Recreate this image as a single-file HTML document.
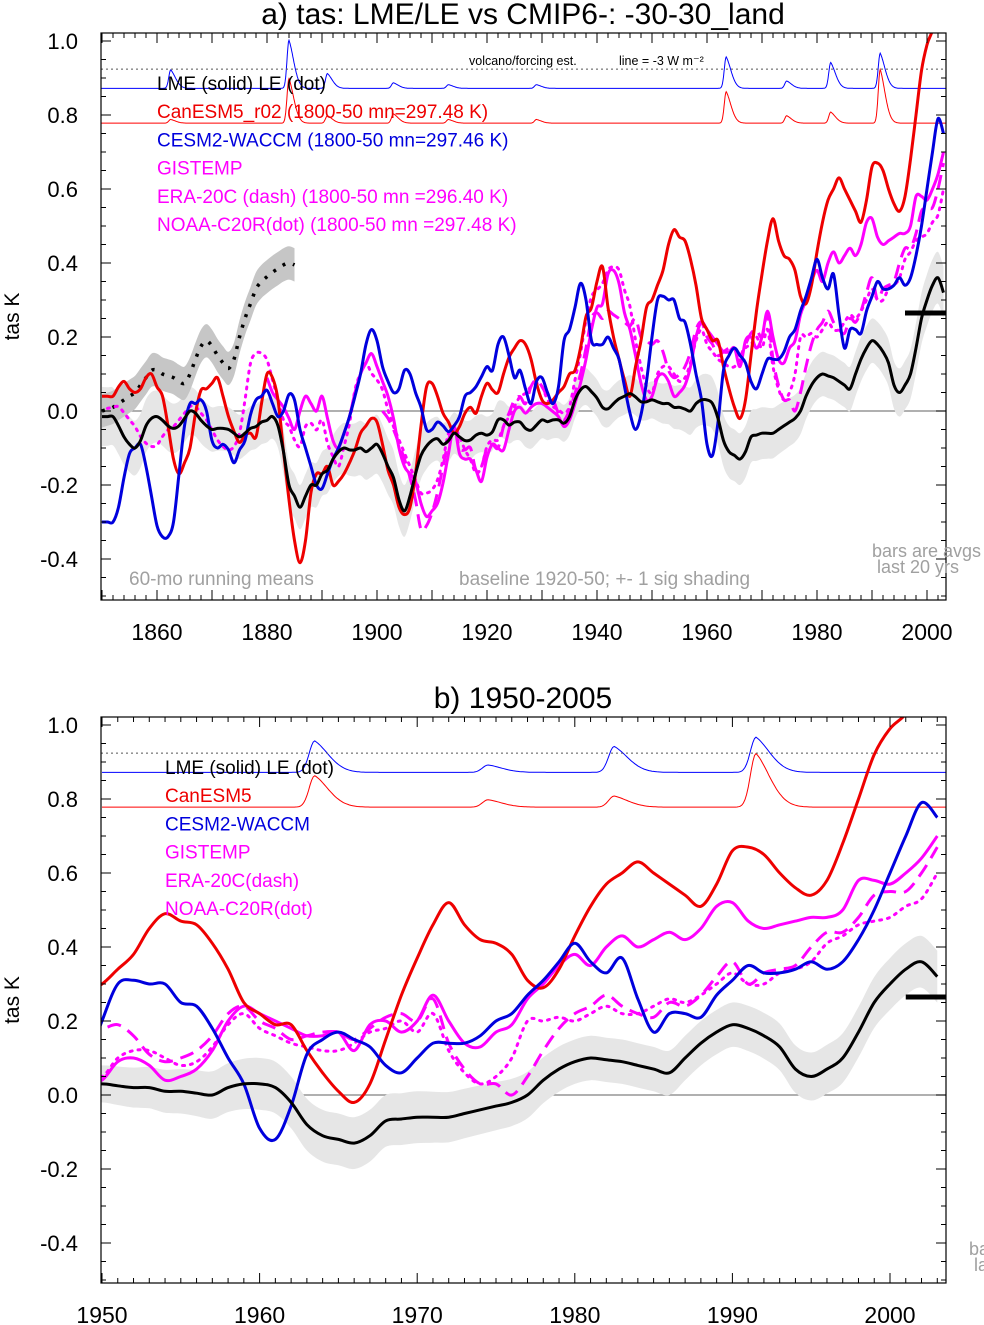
<!DOCTYPE html>
<html><head><meta charset="utf-8"><style>
html,body{margin:0;padding:0;background:#fff}
svg{display:block;font-family:"Liberation Sans",Arial,sans-serif}
</style></head><body>
<svg id="chart" width="984" height="1325" viewBox="0 0 984 1325" xmlns="http://www.w3.org/2000/svg">
<defs>
<clipPath id="clipA"><rect x="101" y="33" width="845" height="567"/></clipPath>
<clipPath id="clipB"><rect x="101" y="717" width="845" height="566"/></clipPath>
</defs>
<g id="panelA"></g>
<g id="panelB"></g>
</svg>
<script>
// ---- data (annual smoothed anomalies, K) ----
const lmeStart = 1850;
const lmeVals = [-0.015,-0.015,-0.015,-0.04,-0.07,-0.09,-0.10,-0.08,-0.04,-0.02,-0.015,-0.025,-0.04,-0.047,-0.04,-0.02,0.0,-0.006,-0.025,-0.04,-0.05,-0.047,-0.047,-0.05,-0.06,-0.07,-0.06,-0.047,-0.042,-0.03,-0.025,-0.015,-0.04,-0.11,-0.2,-0.23,-0.26,-0.23,-0.2,-0.2,-0.17,-0.16,-0.13,-0.11,-0.1,-0.105,-0.105,-0.1,-0.11,-0.1,-0.09,-0.115,-0.15,-0.18,-0.24,-0.27,-0.23,-0.17,-0.12,-0.095,-0.08,-0.075,-0.09,-0.08,-0.06,-0.07,-0.08,-0.078,-0.065,-0.06,-0.065,-0.056,-0.024,-0.024,-0.038,-0.03,-0.03,-0.047,-0.052,-0.038,-0.024,-0.029,-0.024,-0.024,-0.033,-0.015,0.03,0.057,0.066,0.052,0.035,0.01,0.006,0.02,0.033,0.04,0.047,0.038,0.025,0.025,0.03,0.025,0.02,0.02,0.01,0.01,0.005,0.0,0.02,0.03,0.03,0.02,-0.02,-0.08,-0.11,-0.12,-0.13,-0.11,-0.07,-0.065,-0.06,-0.06,-0.06,-0.05,-0.04,-0.03,-0.02,0.0,0.04,0.07,0.09,0.1,0.095,0.09,0.08,0.07,0.06,0.1,0.14,0.17,0.19,0.18,0.16,0.13,0.07,0.05,0.07,0.1,0.17,0.25,0.3,0.34,0.36,0.32];
const sdYears = [1850,1860,1870,1880,1890,1900,1910,1920,1930,1940,1950,1960,1970,1980,1990,2000];
const lmeSd = [0.08,0.07,0.06,0.06,0.06,0.08,0.06,0.05,0.05,0.05,0.05,0.07,0.07,0.06,0.06,0.07];
const canStart = 1850;
const canVals = [0.04,0.04,0.04,0.065,0.08,0.06,0.05,0.06,0.09,0.1,0.065,0.04,-0.04,-0.13,-0.17,-0.14,-0.1,-0.006,0.056,0.06,0.075,0.09,0.04,-0.015,-0.055,-0.085,-0.065,-0.06,-0.07,0.02,0.1,0.09,0.03,-0.11,-0.24,-0.35,-0.41,-0.35,-0.22,-0.17,-0.17,-0.15,-0.2,-0.19,-0.17,-0.14,-0.105,-0.06,-0.04,-0.02,-0.03,-0.09,-0.16,-0.2,-0.26,-0.28,-0.26,-0.17,-0.04,0.065,0.075,0.04,-0.006,-0.03,-0.06,-0.042,-0.006,0.01,-0.006,0.04,0.075,0.057,0.05,0.1,0.145,0.17,0.19,0.18,0.14,0.075,0.03,0.02,0.03,0.05,0.066,0.1,0.11,0.17,0.255,0.28,0.35,0.39,0.28,0.2,0.14,0.084,0.04,0.12,0.19,0.28,0.3,0.34,0.38,0.45,0.49,0.47,0.46,0.41,0.34,0.25,0.22,0.19,0.19,0.12,0.06,0.01,-0.02,0.03,0.15,0.27,0.37,0.46,0.52,0.46,0.42,0.41,0.38,0.31,0.29,0.34,0.43,0.51,0.57,0.6,0.63,0.6,0.57,0.54,0.51,0.57,0.66,0.67,0.65,0.6,0.56,0.54,0.58,0.68,0.8,0.92,0.99,1.03,1.1,1.15];
const cesmStart = 1850;
const cesmVals = [-0.3,-0.3,-0.3,-0.26,-0.18,-0.115,-0.1,-0.09,-0.15,-0.23,-0.31,-0.34,-0.34,-0.3,-0.17,-0.04,0.02,0.02,0.03,0.0,-0.08,-0.1,-0.09,-0.105,-0.14,-0.105,-0.08,-0.01,0.03,0.04,0.056,0.02,-0.015,0.0,0.045,0.03,-0.05,-0.1,-0.15,-0.2,-0.21,-0.17,-0.13,-0.1,-0.06,-0.015,0.04,0.1,0.18,0.22,0.19,0.12,0.08,0.05,0.06,0.11,0.1,0.05,0.01,-0.05,-0.05,-0.03,-0.04,-0.056,-0.04,-0.015,0.04,0.05,0.066,0.093,0.12,0.11,0.18,0.2,0.15,0.09,0.11,0.06,0.02,0.08,0.09,0.05,0.02,0.066,0.19,0.22,0.28,0.345,0.3,0.19,0.18,0.18,0.2,0.17,0.14,0.066,-0.006,-0.05,-0.01,0.08,0.2,0.3,0.31,0.3,0.3,0.25,0.24,0.18,0.1,0.03,-0.09,-0.12,-0.03,0.11,0.15,0.17,0.15,0.13,0.08,0.06,0.1,0.14,0.14,0.14,0.16,0.2,0.22,0.27,0.31,0.36,0.41,0.36,0.33,0.37,0.26,0.17,0.22,0.22,0.21,0.27,0.31,0.35,0.33,0.33,0.34,0.36,0.34,0.36,0.42,0.5,0.6,0.7,0.79,0.75];
const gisStart = 1880;
const gisVals = [0.09,0.05,0.03,0.01,-0.02,-0.05,0.0,0.04,0.02,0.0,0.04,-0.02,-0.08,-0.1,-0.06,-0.015,0.05,0.1,0.13,0.155,0.12,0.08,0.04,-0.02,-0.1,-0.15,-0.17,-0.19,-0.25,-0.285,-0.27,-0.25,-0.195,-0.115,-0.042,-0.115,-0.13,-0.13,-0.16,-0.19,-0.125,-0.09,-0.1,-0.105,-0.05,0.0,0.01,-0.006,0.01,0.02,0.02,0.01,-0.002,-0.015,-0.042,-0.024,0.02,0.075,0.14,0.22,0.28,0.29,0.37,0.38,0.345,0.265,0.22,0.15,0.075,0.03,0.04,0.09,0.1,0.08,0.04,0.05,0.07,0.12,0.2,0.24,0.22,0.2,0.18,0.16,0.16,0.17,0.12,0.19,0.2,0.17,0.2,0.27,0.2,0.14,0.13,0.17,0.19,0.26,0.3,0.35,0.38,0.35,0.4,0.43,0.4,0.42,0.44,0.42,0.45,0.51,0.52,0.47,0.45,0.46,0.47,0.48,0.48,0.5,0.58,0.58,0.57,0.6,0.64,0.7];
const eraStart = 1901;
const eraVals = [0.0,-0.02,-0.05,-0.09,-0.13,-0.18,-0.24,-0.32,-0.31,-0.275,-0.22,-0.15,-0.08,-0.042,-0.1,-0.105,-0.1,-0.16,-0.15,-0.1,-0.09,-0.1,-0.042,-0.006,0.03,0.039,0.02,0.066,0.084,0.066,0.039,0.03,-0.006,-0.024,0.003,0.047,0.1,0.17,0.25,0.265,0.25,0.27,0.26,0.25,0.24,0.23,0.25,0.2,0.19,0.18,0.19,0.16,0.11,0.09,0.1,0.12,0.16,0.22,0.24,0.2,0.18,0.15,0.16,0.17,0.17,0.15,0.18,0.21,0.22,0.2,0.26,0.14,0.07,0.03,0.03,0.0,0.05,0.12,0.18,0.22,0.24,0.27,0.24,0.22,0.21,0.25,0.24,0.27,0.32,0.36,0.3,0.33,0.34,0.35,0.4,0.44,0.44,0.48,0.54,0.55,0.55,0.6,0.67];
const noaaStart = 1851;
const noaaVals = [0.007,0.01,0.012,-0.005,-0.024,-0.042,-0.069,-0.087,-0.096,-0.092,-0.069,-0.051,-0.042,-0.024,-0.006,0.012,0.012,-0.006,-0.024,-0.051,-0.078,-0.096,-0.105,-0.096,-0.06,0.03,0.129,0.156,0.156,0.138,0.084,0.03,-0.024,-0.042,-0.078,-0.096,-0.042,-0.033,-0.051,-0.024,-0.087,-0.123,-0.15,-0.096,-0.033,0.057,0.102,0.129,0.102,0.084,0.057,0.003,-0.042,-0.078,-0.114,-0.15,-0.186,-0.222,-0.222,-0.213,-0.186,-0.132,-0.06,-0.042,-0.069,-0.105,-0.132,-0.168,-0.15,-0.096,-0.078,-0.078,-0.042,-0.015,0.012,0.039,0.048,0.066,0.075,0.066,0.03,0.012,0.003,-0.006,0.012,0.084,0.156,0.246,0.309,0.327,0.345,0.381,0.39,0.381,0.327,0.282,0.192,0.12,0.066,0.05,0.1,0.12,0.12,0.1,0.08,0.09,0.13,0.19,0.22,0.18,0.16,0.14,0.13,0.12,0.12,0.14,0.17,0.18,0.2,0.17,0.22,0.12,0.06,0.03,0.05,0.1,0.2,0.2,0.21,0.2,0.22,0.24,0.22,0.22,0.24,0.26,0.25,0.27,0.3,0.33,0.3,0.3,0.33,0.34,0.36,0.41,0.43,0.46,0.47,0.48,0.51,0.53,0.6];
const leStart = 1850;
const leVals = [0.0,0.005,0.01,0.02,0.03,0.04,0.05,0.07,0.09,0.11,0.11,0.1,0.095,0.09,0.08,0.075,0.1,0.14,0.175,0.19,0.175,0.15,0.13,0.115,0.14,0.2,0.25,0.29,0.33,0.35,0.363,0.375,0.385,0.395,0.4,0.395];
const leSd = 0.045;
const volcYears = [1862.5,1884,1891,1903,1913,1929,1963.5,1974.5,1982.5,1991.5];
const volcBlueAmp = [0.05,0.13,0.04,0.015,0.01,0.01,0.085,0.02,0.07,0.095];
const volcRedAmp = [0.01,0.12,0.02,0.025,0.01,0.01,0.085,0.02,0.03,0.145];
const forcingBase = [0.872, 0.778];
const last20Avg = 0.265;
const yTicks = [-0.4,-0.2,0.0,0.2,0.4,0.6,0.8,1.0];
const xTicksA = [1860,1880,1900,1920,1940,1960,1980,2000];
const xTicksB = [1950,1960,1970,1980,1990,2000];

const NS = 'http://www.w3.org/2000/svg';
function mk(parent, tag, attrs, text){
  const e = document.createElementNS(NS, tag);
  for (const k in attrs) e.setAttribute(k, attrs[k]);
  if (text !== undefined) e.textContent = text;
  parent.appendChild(e);
  return e;
}
function smoothPath(pts){
  if (pts.length < 2) return '';
  let d = 'M' + pts[0][0].toFixed(1) + ',' + pts[0][1].toFixed(1);
  for (let i = 0; i < pts.length - 1; i++){
    const p0 = pts[Math.max(0,i-1)], p1 = pts[i], p2 = pts[i+1], p3 = pts[Math.min(pts.length-1,i+2)];
    const c1x = p1[0] + (p2[0]-p0[0])/6, c1y = p1[1] + (p2[1]-p0[1])/6;
    const c2x = p2[0] - (p3[0]-p1[0])/6, c2y = p2[1] - (p3[1]-p1[1])/6;
    d += 'C' + c1x.toFixed(1)+','+c1y.toFixed(1)+' '+c2x.toFixed(1)+','+c2y.toFixed(1)+' '+p2[0].toFixed(1)+','+p2[1].toFixed(1);
  }
  return d;
}
function sdAt(yr){
  if (yr <= sdYears[0]) return lmeSd[0];
  for (let i = 0; i < sdYears.length-1; i++){
    if (yr <= sdYears[i+1]){ const f=(yr-sdYears[i])/(sdYears[i+1]-sdYears[i]); return lmeSd[i]*(1-f)+lmeSd[i+1]*f; }
  }
  return lmeSd[lmeSd.length-1];
}
function volcShape(t){ return t < 0 ? Math.exp(-(t/0.5)*(t/0.5)) : Math.exp(-(t/1.3)*(t/1.3)*0.7 - t*0.3); }

function drawPanel(g, P){
  const X = yr => P.px0 + P.pxPerYr*(yr - P.yr0);
  const Y = v => P.py0 - 370*v;
  const clip = P.clip;
  const zl = mk(g,'line',{x1:P.left,x2:P.right,y1:Y(0),y2:Y(0),stroke:'#808080','stroke-width':1.2});
   
  const data = mk(g,'g',{'clip-path':'url(#'+clip+')'});
   
  const inRange = yr => yr >= P.yrMin-1 && yr <= P.yrMax+1;
  {
    const up=[], lo=[];
    lmeVals.forEach((v,i)=>{ const yr=lmeStart+i; if(!inRange(yr)) return; const s=sdAt(yr); up.push([X(yr),Y(v+s)]); lo.push([X(yr),Y(v-s)]); });
    const d = smoothPath(up) + 'L' + smoothPath(lo.slice().reverse()).slice(1) + 'Z';
    const s = mk(data,'path',{d:d,fill:'#e6e6e6',stroke:'none'});
     
  }
  if (P.showLE){
    const up=[], lo=[], mid=[];
    leVals.forEach((v,i)=>{ const yr=leStart+i; up.push([X(yr),Y(v+leSd)]); lo.push([X(yr),Y(v-leSd)]); mid.push([X(yr),Y(v)]); });
    const s = mk(data,'path',{d: smoothPath(up)+'L'+smoothPath(lo.slice().reverse()).slice(1)+'Z', fill:'#c6c6c6'});
     
    const l = mk(data,'path',{d:smoothPath(mid),fill:'none',stroke:'#000','stroke-width':3.5,'stroke-dasharray':'3 8'});
     
  }
  const colorsF = ['#0000ff','#ff0000'];
  [volcBlueAmp, volcRedAmp].forEach((amps, k)=>{
    const pts=[];
    for (let t=P.yrMin; t<=P.yrMax+0.05; t+=0.1){
      let v = forcingBase[k];
      volcYears.forEach((vy,j)=>{ v += amps[j]*volcShape(t-vy); });
      pts.push(X(t).toFixed(1)+','+Y(v).toFixed(1));
    }
    const pl = mk(data,'polyline',{points:pts.join(' '),fill:'none',stroke:colorsF[k],'stroke-width':1});
     
  });
  const dl = mk(data,'line',{x1:P.left,x2:P.right,y1:Y(0.924),y2:Y(0.924),stroke:'#555','stroke-width':1,'stroke-dasharray':'2 3'});
   
  const series = [
    {s:noaaStart,v:noaaVals,c:'#ff00ff',dash:'2 6',w:3,n:'noaa-c20r-line'},
    {s:eraStart,v:eraVals,c:'#ff00ff',dash:'14 8',w:3,n:'era-20c-line'},
    {s:gisStart,v:gisVals,c:'#ff00ff',dash:null,w:3,n:'gistemp-line'},
    {s:canStart,v:canVals,c:'#ee0000',dash:null,w:3,n:'canesm5-line'},
    {s:cesmStart,v:cesmVals,c:'#0000dd',dash:null,w:3,n:'cesm2-waccm-line'},
    {s:lmeStart,v:lmeVals,c:'#000000',dash:null,w:3,n:'lme-line'}
  ];
  series.forEach(S=>{
    const pts=[];
    S.v.forEach((v,i)=>{ const yr=S.s+i; if(inRange(yr)) pts.push([X(yr),Y(v)]); });
    const a = {d:smoothPath(pts),fill:'none',stroke:S.c,'stroke-width':S.w,'stroke-linejoin':'round'};
    if (S.dash){ a['stroke-dasharray']=S.dash; a['stroke-linecap']= S.dash.startsWith('2')?'round':'butt'; }
    const p = mk(data,'path',a);
     
  });
  const bar = mk(g,'line',{x1:X(P.barStart),x2:P.right,y1:Y(last20Avg),y2:Y(last20Avg),stroke:'#000','stroke-width':5});
   
  const fr = mk(g,'rect',{x:P.left,y:P.top,width:P.right-P.left,height:P.bottom-P.top,fill:'none',stroke:'#000','stroke-width':1.2});
   
  for (let v=-0.5; v<=1.0001; v+=0.05){
    const yy=Y(v); if (yy<P.top||yy>P.bottom) continue;
    const major = Math.abs(Math.round(v*10)%2)===0 && Math.abs(v*10-Math.round(v*10))<1e-6;
    const L = major?10:5;
    mk(g,'line',{x1:P.left,x2:P.left+L,y1:yy,y2:yy,stroke:'#000','stroke-width':1});
    mk(g,'line',{x1:P.right,x2:P.right-L,y1:yy,y2:yy,stroke:'#000','stroke-width':1});
  }
  yTicks.forEach(v=>{
    const t = mk(g,'text',{x:78,y:Y(v)+8,'text-anchor':'end','font-size':22}, v.toFixed(1));
     
  });
  for (let yr=Math.ceil(P.yrMin); yr<=P.yrMax; yr+=P.minorStep){
    const L = (yr%10===0)?10:5;
    mk(g,'line',{x1:X(yr),x2:X(yr),y1:P.bottom,y2:P.bottom-L,stroke:'#000','stroke-width':1});
    mk(g,'line',{x1:X(yr),x2:X(yr),y1:P.top,y2:P.top+L,stroke:'#000','stroke-width':1});
  }
  P.xTicks.forEach(yr=>{
    const t = mk(g,'text',{x:X(yr),y:P.bottom+40,'text-anchor':'middle','font-size':23}, String(yr));
     
  });
  const yt = mk(g,'text',{x:19,y:(P.top+P.bottom)/2,'text-anchor':'middle','font-size':21,transform:'rotate(-90 19 '+((P.top+P.bottom)/2)+')'}, 'tas K');
   
  const tt = mk(g,'text',{x:523,y:P.top-9,'text-anchor':'middle','font-size':30}, P.title);
   
  P.legend.forEach((L,i)=>{
    const t = mk(g,'text',{x:P.legX,y:P.legY+28.2*i,'font-size':19,fill:L[1]}, L[0]);
     
  });
  (P.notes||[]).forEach(N=>{
    const t = mk(g,'text',{x:N[0],y:N[1],'font-size':N[2],fill:N[3]}, N[4]);
     
  });
}

drawPanel(document.getElementById('panelA'), {
  px0:102, yr0:1850, pxPerYr:5.5, py0:411, left:101, right:946, top:33, bottom:600,
  yrMin:1849.8, yrMax:2003.6, clip:'clipA', showLE:true, barStart:1996, minorStep:2,
  xTicks:xTicksA, title:'a) tas: LME/LE vs CMIP6-: -30-30_land', legX:157, legY:90,
  legend:[['LME (solid)   LE (dot)','#000'],['CanESM5_r02 (1800-50 mn=297.48 K)','#ee0000'],['CESM2-WACCM (1800-50 mn=297.46 K)','#0000dd'],['GISTEMP','#ff00ff'],['ERA-20C (dash) (1800-50 mn =296.40 K)','#ff00ff'],['NOAA-C20R(dot) (1800-50 mn =297.48 K)','#ff00ff']],
  notes:[[469,65,12.5,'#000','volcano/forcing est.','forcing-note'],[619,65,12.5,'#000','line = -3 W m\u207B\u00B2','forcing-scale-note'],
         [129,585,19,'#a0a0a0','60-mo running means','smoothing-note'],[459,585,19,'#a0a0a0','baseline 1920-50; +- 1 sig shading','baseline-note'],
         [872,557,18,'#a0a0a0','bars are avgs','bars-note'],[877,573,18,'#a0a0a0','last 20 yrs','bars-note-2']]
});
drawPanel(document.getElementById('panelB'), {
  px0:102, yr0:1950, pxPerYr:15.76, py0:1095, left:101, right:946, top:717, bottom:1283,
  yrMin:1950, yrMax:2003.55, clip:'clipB', showLE:false, barStart:2001, minorStep:1,
  xTicks:xTicksB, title:'b) 1950-2005', legX:165, legY:774,
  legend:[['LME (solid)      LE (dot)','#000'],['CanESM5','#ee0000'],['CESM2-WACCM','#0000dd'],['GISTEMP','#ff00ff'],['ERA-20C(dash)','#ff00ff'],['NOAA-C20R(dot)','#ff00ff']],
  notes:[[969,1255,18,'#a0a0a0','ba','bars-note'],[974,1271,18,'#a0a0a0','la','bars-note-2']]
});
</script>
</body></html>
